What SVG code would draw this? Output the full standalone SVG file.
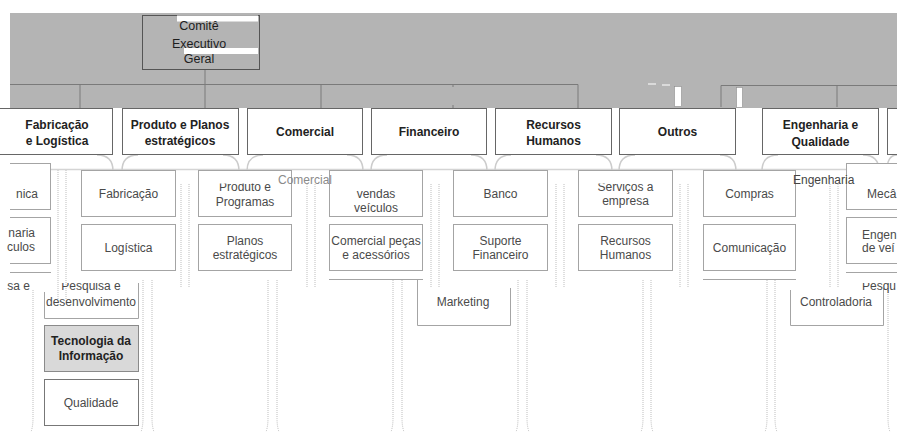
<svg xmlns="http://www.w3.org/2000/svg" width="897" height="432" viewBox="0 0 897 432">
  <defs>
    <style>
      .band { fill: #b4b4b4; }
      .link { fill: none; stroke: #7a7a7a; stroke-width: 1; }
      .head rect { fill: #ffffff; stroke: #666666; stroke-width: 1; }
      .ht { font-family: "Liberation Sans", Arial, sans-serif; font-size: 12px; font-weight: bold; fill: #222222; text-anchor: middle; }
      .box { fill: #ffffff; stroke: #a4a4a4; stroke-width: 1; }
      .edge { fill: none; stroke: #a4a4a4; stroke-width: 1; }
      .st { font-family: "Liberation Sans", Arial, sans-serif; font-size: 12px; fill: #4a4a4a; text-anchor: middle; }
      .arc { fill: none; stroke: #cccccc; stroke-width: 1.5; }
      .dot { fill: none; stroke: #bdbdbd; stroke-width: 1; stroke-dasharray: 1 1; }
      .ct { font-family: "Liberation Sans", Arial, sans-serif; font-size: 12.5px; fill: #1e1e1e; text-anchor: middle; }
    </style>
    <clipPath id="cutRow1"><rect x="0" y="183.5" width="897" height="260"/></clipPath>
    <clipPath id="cutRow3"><rect x="0" y="283" width="897" height="160"/></clipPath>
  </defs>

  <rect width="897" height="432" fill="#ffffff"/>
  <!-- grey title band -->
  <rect class="band" x="10" y="13" width="887" height="95"/>

  <!-- connectors -->
  <g id="connectors">
    <path class="link" d="M10,84.5 H578 M80,84.5 V108 M321,84.5 V108 M578,84.5 V108 M453,84 V87 M453,105 V108" stroke="#888"/>
    <path class="link" d="M205,69 V108" stroke="#555"/>
    <path class="link" d="M721,85.5 H897 M721,85.5 V107 M837,85.5 V107"/>
    <rect x="674.5" y="86.5" width="7" height="20" fill="#ffffff" stroke="#8c8c8c" stroke-width="0.6"/>
    <rect x="736.5" y="87.5" width="6" height="20" fill="#ffffff" stroke="#8c8c8c" stroke-width="0.6"/>
    <path d="M648,84 H656 M662,85 H670" stroke="#ffffff" stroke-width="1.2"/>
    <!-- light rail under the department row -->
    <path d="M10,169.5 H897" stroke="#d4d4d4" stroke-width="1.5"/>
    <!-- rounded branches under the department boxes -->
    <path class="arc" d="M97,155 Q113,155 113,171 V183
      M138,155 Q122,155 122,171 V183 M223,155 Q239,155 239,171 V183
      M263,155 Q247,155 247,171 V183 M347,155 Q363,155 363,171 V183
      M387,155 Q371,155 371,171 V183 M471,155 Q487,155 487,171 V183
      M511,155 Q495,155 495,171 V183 M596,155 Q612,155 612,171 V183
      M635,155 Q619,155 619,171 V183 M720,155 Q736,155 736,171 V183
      M778,155 Q762,155 762,171 V183 M863,155 Q879,155 879,171 V183
      M897,155 Q887,155 887,171 V183"/>
    <!-- upper column guides -->
    <path class="dot" d="M58,170 V300 M66,170 V300 M181,184 V288 M189,184 V288
      M307,184 V288 M315,184 V288 M431,184 V288 M439,184 V288
      M556,184 V288 M564,184 V288 M680,184 V288 M688,184 V288
      M830,184 V288 M838,184 V288"/>
    <!-- lower column guides -->
    <path class="dot" d="M33,290 V418 Q33,430 29,436
      M143,280 V418 Q143,430 139,436 M152,280 V418 Q152,430 156,436
      M268,280 V418 Q268,430 264,436 M277,280 V418 Q277,430 281,436
      M393,280 V418 Q393,430 389,436 M402,280 V418 Q402,430 406,436
      M518,280 V418 Q518,430 514,436 M527,280 V418 Q527,430 531,436
      M643,280 V418 Q643,430 639,436 M651,280 V418 Q651,430 655,436
      M767,280 V418 Q767,430 763,436 M775,280 V418 Q775,430 779,436
      M888,284 V418 Q888,430 892,436"/>
  </g>

  <!-- executive committee -->
  <g id="comite">
    <rect x="142.5" y="15.5" width="117" height="54" fill="#b4b4b4" stroke="#555555"/>
    <rect x="177" y="15.5" width="81" height="6" fill="#ffffff"/>
    <rect x="184" y="48" width="74" height="6" fill="#ffffff"/>
    <text class="ct" x="199" y="30">Comitê</text>
    <text class="ct" x="199" y="47.5">Executivo</text>
    <text class="ct" x="199" y="63">Geral</text>
  </g>

  <!-- department row -->
  <g id="fabricacao-logistica" class="head">
    <rect x="-4.5" y="108.5" width="117" height="46"/>
    <text class="ht" x="57" y="129">Fabricação</text>
    <text class="ht" x="57" y="145">e Logística</text>
  </g>
  <g id="produto-planos" class="head">
    <rect x="122.5" y="108.5" width="116" height="46"/>
    <text class="ht" x="180" y="129">Produto e Planos</text>
    <text class="ht" x="180" y="145">estratégicos</text>
  </g>
  <g id="comercial" class="head">
    <rect x="247.5" y="108.5" width="115" height="46"/>
    <text class="ht" x="305" y="136">Comercial</text>
  </g>
  <g id="financeiro" class="head">
    <rect x="371.5" y="108.5" width="115" height="46"/>
    <text class="ht" x="429" y="136">Financeiro</text>
  </g>
  <g id="recursos-humanos" class="head">
    <rect x="495.5" y="108.5" width="116" height="46"/>
    <text class="ht" x="553.5" y="128.5">Recursos</text>
    <text class="ht" x="553.5" y="145">Humanos</text>
  </g>
  <g id="outros" class="head">
    <rect x="619.5" y="108.5" width="116" height="46"/>
    <text class="ht" x="677.5" y="136">Outros</text>
  </g>
  <g id="engenharia-qualidade" class="head">
    <rect x="762.5" y="108.5" width="116" height="46"/>
    <text class="ht" x="820.5" y="129">Engenharia e</text>
    <text class="ht" x="820.5" y="146">Qualidade</text>
  </g>
  <g id="ultimo" class="head">
    <rect x="887.5" y="108.5" width="116" height="46"/>
  </g>

  <!-- left edge column (only the word endings show) -->
  <g id="mecanica-esq">
    <rect class="box" x="-44.5" y="163.5" width="95" height="46"/>
    <rect x="0" y="160" width="10" height="160" fill="#ffffff"/>
    <text class="st" x="38" y="198" style="text-anchor:end">nica</text>
  </g>
  <g id="engenharia-veiculos-esq">
    <rect class="box" x="-44.5" y="217.5" width="95" height="46"/>
    <rect x="0" y="214" width="10" height="52" fill="#ffffff"/>
    <text class="st" x="35" y="237" style="text-anchor:end">naria</text>
    <text class="st" x="35" y="251" style="text-anchor:end">culos</text>
  </g>
  <g id="pesquisa-esq">
    <path class="edge" d="M10,272.5 H51"/>
    <text class="st" x="30" y="290" style="text-anchor:end" clip-path="url(#cutRow3)">sa e</text>
  </g>

  <!-- Fabricação e Logística -->
  <g id="fabricacao">
    <rect class="box" x="81.5" y="170.5" width="94" height="46"/>
    <text class="st" x="128.5" y="198">Fabricação</text>
  </g>
  <g id="logistica">
    <rect class="box" x="81.5" y="224.5" width="94" height="46"/>
    <text class="st" x="128.5" y="251.5">Logística</text>
  </g>

  <!-- Produto e Planos -->
  <g id="produto-programas">
    <rect class="box" x="198.5" y="170.5" width="93" height="46"/>
    <text class="st" x="245" y="191" clip-path="url(#cutRow1)">Produto e</text>
    <text class="st" x="245" y="206">Programas</text>
  </g>
  <g id="planos-estrategicos">
    <rect class="box" x="198.5" y="224.5" width="93" height="46"/>
    <text class="st" x="245" y="245">Planos</text>
    <text class="st" x="245" y="259">estratégicos</text>
  </g>

  <!-- Comercial -->
  <g id="vendas-veiculos">
    <rect class="box" x="329.5" y="170.5" width="93" height="46"/>
    <text class="st" x="376" y="198">vendas</text>
    <text class="st" x="376" y="212">veículos</text>
  </g>
  <g id="pecas-acessorios">
    <rect class="box" x="329.5" y="224.5" width="93" height="46"/>
    <text class="st" x="376" y="245">Comercial peças</text>
    <text class="st" x="376" y="259">e acessórios</text>
  </g>
  <g id="marketing">
    <path class="edge" d="M329,279.5 H423 M417.5,279 V325.5 H510.5 V288"/>
    <text class="st" x="463" y="306">Marketing</text>
  </g>

  <!-- Financeiro -->
  <g id="banco">
    <rect class="box" x="453.5" y="170.5" width="94" height="46"/>
    <text class="st" x="500.5" y="198">Banco</text>
  </g>
  <g id="suporte-financeiro">
    <rect class="box" x="453.5" y="224.5" width="94" height="46"/>
    <text class="st" x="500.5" y="245">Suporte</text>
    <text class="st" x="500.5" y="259">Financeiro</text>
  </g>

  <!-- Recursos Humanos -->
  <g id="servicos-empresa">
    <rect class="box" x="578.5" y="170.5" width="94" height="46"/>
    <text class="st" x="625.5" y="191" clip-path="url(#cutRow1)">Serviços a</text>
    <text class="st" x="625.5" y="205">empresa</text>
  </g>
  <g id="rh">
    <rect class="box" x="578.5" y="224.5" width="94" height="46"/>
    <text class="st" x="625.5" y="245">Recursos</text>
    <text class="st" x="625.5" y="259">Humanos</text>
  </g>

  <!-- Outros -->
  <g id="compras">
    <rect class="box" x="703.5" y="170.5" width="92" height="46"/>
    <text class="st" x="749.5" y="198">Compras</text>
  </g>
  <g id="comunicacao">
    <rect class="box" x="703.5" y="224.5" width="92" height="46"/>
    <text class="st" x="749.5" y="251.5">Comunicação</text>
  </g>
  <g id="controladoria">
    <path class="edge" d="M703,279.5 H796 M790.5,290 V325.5 H883.5 V288"/>
    <text class="st" x="836" y="306">Controladoria</text>
  </g>

  <!-- Engenharia e Qualidade, right edge column (only the word starts show) -->
  <g id="mecanica">
    <rect class="box" x="846.5" y="163.5" width="60" height="46"/>
    <text class="st" x="867" y="198" style="text-anchor:start">Mecâ</text>
  </g>
  <g id="engenharia-veiculos">
    <rect class="box" x="846.5" y="217.5" width="60" height="46"/>
    <text class="st" x="862" y="239" style="text-anchor:start">Engen</text>
    <text class="st" x="862" y="252" style="text-anchor:start">de veí</text>
  </g>
  <g id="pesquisa-dir">
    <path class="edge" d="M846,272.5 H897"/>
    <text class="st" x="862" y="290" style="text-anchor:start" clip-path="url(#cutRow3)">Pesqu</text>
  </g>

  <!-- Engenharia e Qualidade, lower stack -->
  <g id="pesquisa-desenvolvimento">
    <path class="edge" d="M44.5,292 V318.5 H138.5 V283"/>
    <text class="st" x="91" y="290" clip-path="url(#cutRow3)">Pesquisa e</text>
    <text class="st" x="91" y="306">desenvolvimento</text>
  </g>
  <g id="tecnologia-informacao">
    <rect x="44.5" y="325.5" width="94" height="46" fill="#d9d9d9" stroke="#8a8a8a"/>
    <text class="ht" x="91" y="345">Tecnologia da</text>
    <text class="ht" x="91" y="360">Informação</text>
  </g>
  <g id="qualidade">
    <rect x="44.5" y="379.5" width="94" height="46" fill="#ffffff" stroke="#777777"/>
    <text class="st" x="91" y="407">Qualidade</text>
  </g>

  <!-- loose section labels lying over the columns -->
  <text class="st" x="278" y="184" style="text-anchor:start; fill:#8a8a8a">Comercial</text>
  <text class="st" x="793" y="184" style="text-anchor:start; fill:#444">Engenharia</text>
</svg>
